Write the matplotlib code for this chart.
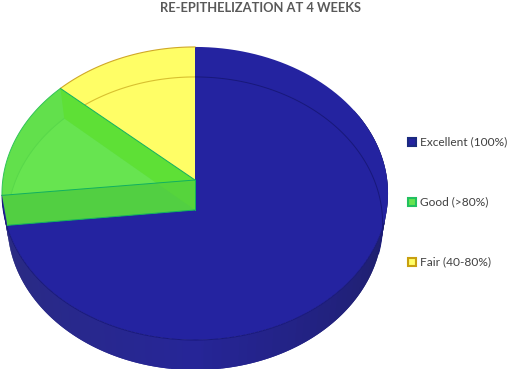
import numpy as np
import matplotlib
matplotlib.use("Agg")
import matplotlib.pyplot as plt
from matplotlib.patches import Polygon, Rectangle

title = "RE-EPITHELIZATION AT 4 WEEKS"
categories = ["Excellent (100%)", "Good (>80%)", "Fair (40-80%)"]
values = [11, 2, 2]
face_colors = ["#2423a0", "#62e04c", "#fffe66"]
edge_colors = ["#1a2a80", "#22c060", "#c8a010"]

W, H = 508, 369
fig = plt.figure(figsize=(W / 100, H / 100), dpi=100)
ax = fig.add_axes([0, 0, 1, 1])
ax.set_xlim(0, W)
ax.set_ylim(H, 0)
ax.axis("off")

CX, K, A, B = 195.0, 0.092, 145.3, 192.2
RIM_CROSS = 107


def proj(theta_deg, dy=0.0, xs=1.0):
    """Perspective projection of a disc angle (clockwise from 12 o'clock)."""
    t = np.radians(np.asarray(theta_deg, dtype=float))
    u, v = np.sin(t), np.cos(t)
    d = 1 + K * v
    return np.column_stack([CX + xs * B * u / d, 180 + dy - A * v / d])


def apex(dy=0.0):
    return np.array([CX, 180 + dy])


TOP = dict(dy=0.0, xs=1.0)
LOW = dict(dy=30.0, xs=0.972)

cum = np.cumsum([0] + values) / sum(values) * 360
a_blue = cum[1]
a_green = cum[2]


def arc(a0, a1, level, n=120):
    return proj(np.linspace(a0, a1, n), **level)


def wedge(a0, a1, level):
    return np.vstack([apex(level["dy"]), arc(a0, a1, level)])


def wall_color(m):
    s = min(1, abs(m - 180) / 110) ** 0.9
    base = np.array([0x26, 0x25, 0x98]) / 255
    side = np.array([0x1c, 0x1d, 0x5c]) / 255 if m < 180 else np.array([0x2c, 0x2e, 0x78]) / 255
    return base + (side - base) * s


# blue outer wall: overlapping bands, painted from each end towards the front
ends = [np.linspace(60, 180, 50), np.linspace(a_blue, 180, 50)]
for seq in ends:
    for a0, a1 in zip(seq[:-1], seq[1:]):
        far = a1 + (a1 - a0)
        pts = np.vstack([arc(a0, far, TOP, 6), arc(far, a0, LOW, 6)])
        ax.add_patch(Polygon(pts, closed=True, fc=wall_color(a0), ec="none", zorder=1))

# blue face
ax.add_patch(Polygon(wedge(0, a_blue, TOP), closed=True, fc=face_colors[0], ec="none", zorder=2))
ax.plot(*arc(RIM_CROSS, a_blue, TOP).T, color="#18187a", lw=0.7, zorder=3)
ax.plot(*arc(0, RIM_CROSS, LOW).T, color="#18187a", lw=0.7, zorder=3)

# green slice
ax.add_patch(Polygon(wedge(a_blue, a_green, TOP), closed=True, fc=face_colors[1], ec="none", zorder=4))
ax.add_patch(Polygon(wedge(a_blue, a_green, LOW), closed=True, fc="#67e450", ec="none", zorder=4.1))
band = np.vstack([apex(0), proj([a_green], **TOP), proj([a_green], **LOW), apex(30)])
ax.add_patch(Polygon(band, closed=True, fc="#5ee036", ec="none", zorder=4.2))
front = np.vstack([apex(0), proj([a_blue], **TOP), proj([a_blue], **LOW), apex(30)])
front_patch = Polygon(front, closed=True, fc="#52cf42", ec="none", zorder=4.3)
ax.add_patch(front_patch)
overlap = Polygon(band, closed=True, fc="#56d43c", ec="none", zorder=4.35)
ax.add_patch(overlap)
overlap.set_clip_path(front_patch)
ax.plot(*arc(a_blue, a_green, TOP).T, color="#30c458", lw=0.7, zorder=4.4)
ax.plot(*arc(a_blue, a_green, LOW).T, color="#58d84a", lw=0.7, zorder=4.15)
ax.plot(*np.vstack([apex(0), proj([a_blue], **TOP)]).T, color="#10b060", lw=0.7, zorder=4.5)
ax.plot(*np.vstack([apex(30), proj([a_blue], **LOW)]).T, color="#10b060", lw=0.7, zorder=4.5)
ax.plot(*np.vstack([apex(0), apex(30)]).T, color="#10b060", lw=0.7, zorder=4.5)
ax.plot(*np.vstack([apex(0), proj([a_green], **TOP)]).T, color="#10b060", lw=0.7, zorder=5.5)

# yellow slice
yellow = Polygon(wedge(a_green, 360, TOP), closed=True, fc=face_colors[2], ec="none", zorder=5)
ax.add_patch(yellow)
ln, = ax.plot(*arc(a_green - 10, 360, LOW).T, color="#d8c030", lw=0.8, zorder=5.1)
ln.set_clip_path(yellow)
ax.plot(*arc(a_green, 360, TOP).T, color="#d0a828", lw=0.8, zorder=5.2)

# title
ax.text(261, 7.5, title, ha="center", va="center", fontsize=9.3, fontweight="bold",
        family="Lato", color="#595959")

# legend
for i, (name, fc, ec) in enumerate(zip(categories, face_colors, edge_colors)):
    y = 142 + 60 * i
    fc = "#66e34f" if i == 1 else fc
    ax.add_patch(Rectangle((408, y - 4.2), 8.4, 8.4, fc=fc, ec=ec, lw=1.5, zorder=6))
    ax.text(420, y, name, ha="left", va="center", fontsize=8.6, family="Lato", color="#404040")

fig.savefig("out.png", dpi=100)
